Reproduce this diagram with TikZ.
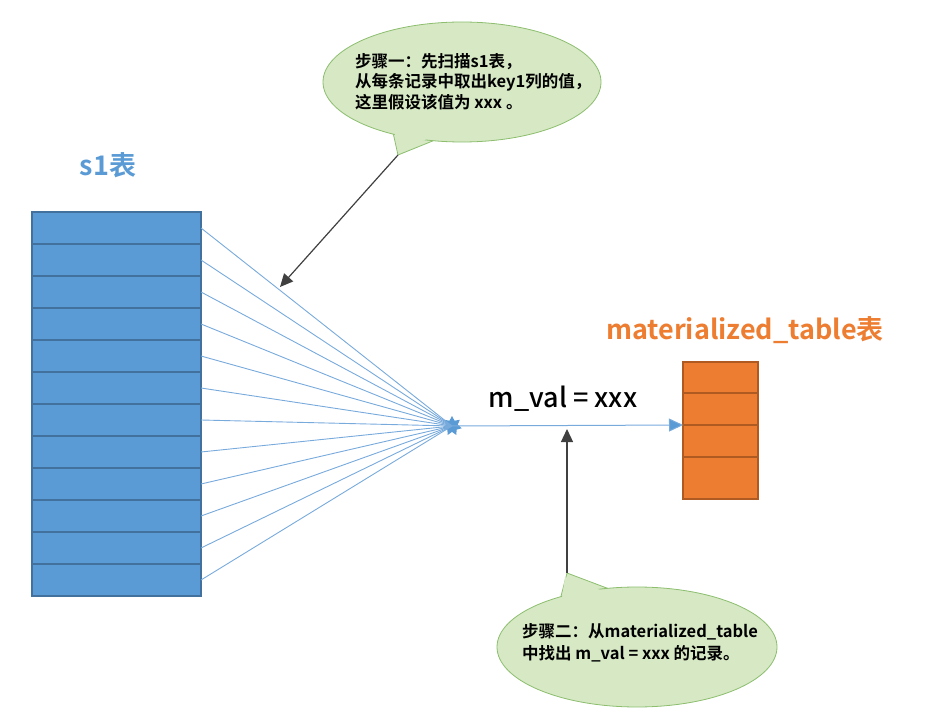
\documentclass[tikz,border=0pt]{standalone}
\usepackage{fontspec}
\setmainfont{Noto Sans CJK SC}
\newfontfamily\cjkb{Noto Sans CJK SC Bold}
\newfontfamily\cjkm{Noto Sans CJK SC Medium}
\usetikzlibrary{shapes.geometric,arrows.meta}
\definecolor{tblue}{RGB}{91,155,213}
\definecolor{tblueb}{RGB}{65,113,156}
\definecolor{torange}{RGB}{237,125,49}
\definecolor{torangeb}{RGB}{174,90,33}
\definecolor{cgreen}{RGB}{214,232,196}
\definecolor{cgreenb}{RGB}{140,190,110}
\definecolor{lblue}{RGB}{120,170,220}
\tikzset{
  bluecell/.style={draw=tblueb,fill=tblue,line width=1.2pt},
  orangecell/.style={draw=torangeb,fill=torange,line width=1.2pt},
  fanline/.style={draw=lblue,line width=0.9pt},
  callout/.style={draw=cgreenb,fill=cgreen,line width=0.8pt},
  blackarrow/.style={draw=black!75,line width=1.2pt,-{Triangle[length=13pt,width=12pt]}},
  ctext/.style={font=\cjkb\fontsize{16.5}{20.5}\selectfont,align=left,anchor=north west,inner sep=0pt},
}
\begin{document}
\begin{tikzpicture}[x=1pt,y=-1pt]
\useasboundingbox (0,0) rectangle (935,714);
% s1 table
\foreach \i in {0,...,11} {
  \draw[bluecell] (32,{212+32*\i}) rectangle (201,{244+32*\i});
}
\node[text=tblue,font=\cjkb\fontsize{27}{30}\selectfont] (s1lbl) at (108,165) {s1表};
% star
\node[star,star points=7,star point ratio=1.7,fill=tblue,minimum size=20pt,inner sep=0pt] (hub) at (452,426) {};
\foreach \i in {0,...,11} {
  \coordinate (r\i) at (201,{228+32*\i});
  \draw[fanline] (r\i) -- (hub.center);
}
% orange table
\draw[orangecell] (683,362) rectangle (758,393);
\draw[orangecell] (683,393) rectangle (758,425);
\draw[orangecell] (683,425) rectangle (758,457);
\draw[orangecell] (683,457) rectangle (758,499);
\coordinate (mt) at (683,425);
\node[text=torange,font=\cjkb\fontsize{27}{30}\selectfont] (mlbl) at (745,330) {materialized\_table表};
% arrow hub -> table
\draw[draw=lblue,line width=1pt,-{Triangle[length=14pt,width=13pt,fill=tblue]}] (hub.center) -- (mt);
\node[font=\cjkm\fontsize{27}{30}\selectfont] (mval) at (563,399) {m\_val = xxx};
% callout 1
\path[callout] (398,155) -- (392,128) -- (445,136) -- cycle;
\draw[callout] (462,82) ellipse [x radius=139, y radius=60];
\path[fill=cgreen] (394,130) -- (398,152) -- (440,133) -- cycle;
\node[ctext] (c1) at (355,53) {步骤一：先扫描s1表，\\从每条记录中取出key1列的值，\\这里假设该值为 xxx 。};
\coordinate (c1tip) at (398,155);
\coordinate (a1) at (280,287);
\draw[blackarrow] (c1tip) -- (a1);
% callout 2
\path[callout] (567,573) -- (560,600) -- (612,590) -- cycle;
\draw[callout] (637,647) ellipse [x radius=140, y radius=60];
\path[fill=cgreen] (565,577) -- (562,598) -- (606,592) -- cycle;
\node[ctext,font=\cjkb\fontsize{16.5}{22.5}\selectfont] (c2) at (522,623) {步骤二：从materialized\_table\\中找出 m\_val = xxx 的记录。};
\coordinate (c2tip) at (567,573);
\coordinate (a2) at (567,429);
\draw[blackarrow] (c2tip) -- (a2);
\end{tikzpicture}
\end{document}
